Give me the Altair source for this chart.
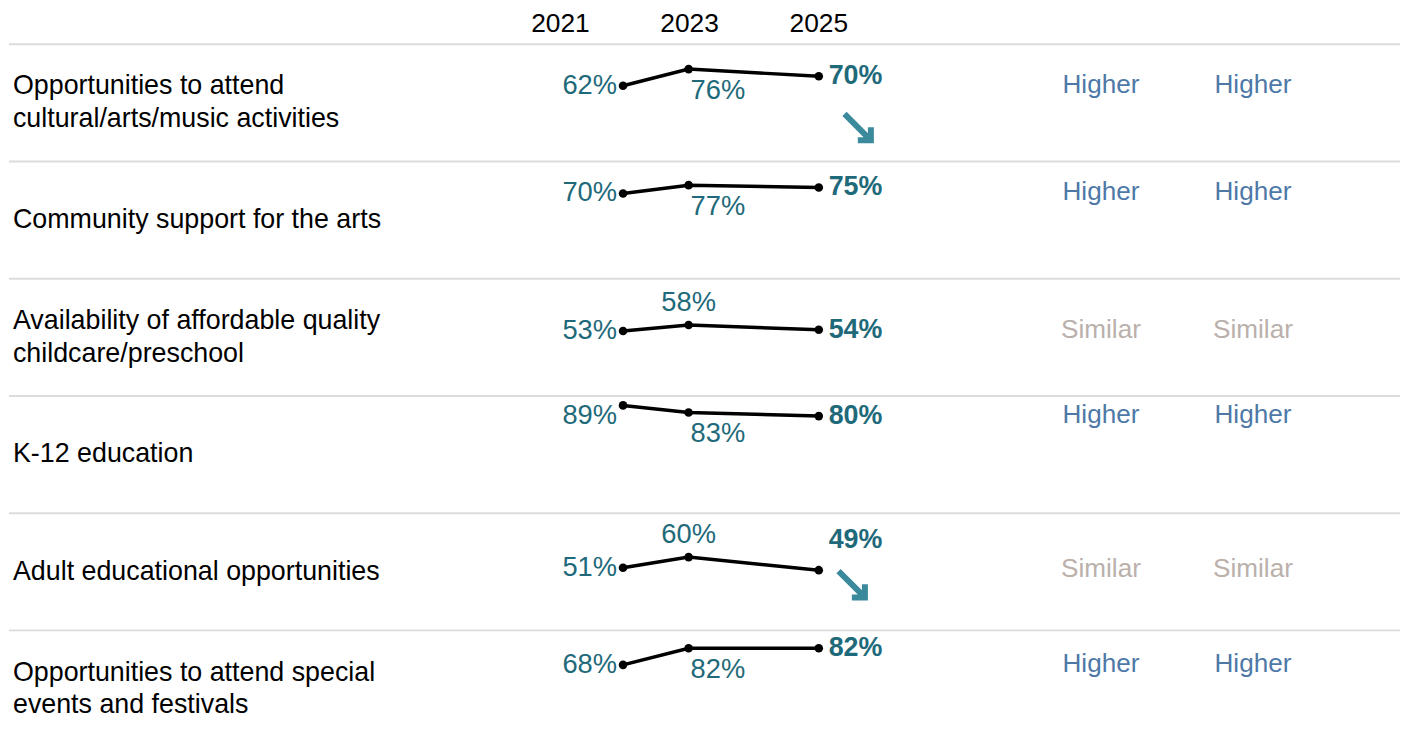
import altair as alt
import pandas as pd

# ---- data ----
categories = [
    "Opportunities to attend\ncultural/arts/music activities",
    "Community support for the arts",
    "Availability of affordable quality\nchildcare/preschool",
    "K-12 education",
    "Adult educational opportunities",
    "Opportunities to attend special\nevents and festivals",
]
years = [2021, 2023, 2025]
v2021 = [62, 70, 53, 89, 51, 68]
v2023 = [76, 77, 58, 83, 60, 82]
v2025 = [70, 75, 54, 80, 49, 82]
label2023_side = ["below", "below", "above", "below", "above", "below"]
label2025_side = ["right", "right", "right", "right", "above", "right"]
trend = ["down", "none", "none", "none", "down", "none"]
compare_a = ["Higher", "Higher", "Similar", "Higher", "Similar", "Higher"]
compare_b = ["Higher", "Higher", "Similar", "Higher", "Similar", "Higher"]

recs = []
for i, cat in enumerate(categories):
    for yr, vals in zip(years, [v2021, v2023, v2025]):
        recs.append({
            "row": i,
            "category": cat,
            "nlines": cat.count("\n") + 1,
            "year": yr,
            "value": vals[i],
            "label": f"{vals[i]}%",
            "side23": label2023_side[i],
            "side25": label2025_side[i],
            "trend": trend[i],
            "cmpA": compare_a[i],
            "cmpB": compare_b[i],
        })
df = pd.DataFrame(recs)

TEAL = "#1f6a7a"
ARROW = "#3b8a9c"
FONT = "Liberation Sans"
W = 1405
H = 117.2
PCT = 27.5

yscale = alt.Scale(domain=[-1, 97], zero=False, nice=False)
xs = alt.X("year:Q", scale=alt.Scale(domain=years, range=[618, 684, 815], zero=False, nice=False), axis=None)
ys = alt.Y("value:Q", scale=yscale, axis=None)

base = alt.Chart(df)

sep = base.transform_filter("datum.year == 2021").mark_rule(color="#dcdcdc", strokeWidth=2).encode(
    x=alt.value(0), x2=alt.value(1400), y=alt.value(0)
)
line = base.mark_line(color="black", strokeWidth=3.5).encode(x=xs, y=ys, detail="row:N")
pts = base.mark_circle(color="black", size=75, opacity=1).encode(x=xs, y=ys)

# 2021 labels kept inside the row (clamped near the row top)
t21 = base.transform_filter("datum.year == 2021").transform_calculate(
    ly="min(datum.value, 80)"
).mark_text(
    align="right", baseline="middle", dx=-6, fontSize=PCT, font=FONT, color=TEAL
).encode(x=xs, y=alt.Y("ly:Q", scale=yscale, axis=None), text="label:N")
t23b = base.transform_filter("datum.year == 2023 && datum.side23 == 'below'").mark_text(
    align="left", baseline="middle", dx=2, dy=22, fontSize=PCT, font=FONT, color=TEAL
).encode(x=xs, y=ys, text="label:N")
t23a = base.transform_filter("datum.year == 2023 && datum.side23 == 'above'").mark_text(
    align="center", baseline="middle", dy=-22, fontSize=PCT, font=FONT, color=TEAL
).encode(x=xs, y=ys, text="label:N")
t25r = base.transform_filter("datum.year == 2025 && datum.side25 == 'right'").mark_text(
    align="left", baseline="middle", dx=10, fontSize=27, font=FONT, fontWeight="bold", color=TEAL
).encode(x=xs, y=ys, text="label:N")
t25a = base.transform_filter("datum.year == 2025 && datum.side25 == 'above'").mark_text(
    align="left", baseline="middle", dx=10, dy=-30, fontSize=27, font=FONT, fontWeight="bold", color=TEAL
).encode(x=xs, y=ys, text="label:N")

arrow_path = "M-1,-1L0.88,0.88M0.88,-0.05L0.88,0.88L-0.05,0.88"
arr_r = base.transform_filter("datum.year == 2025 && datum.trend == 'down' && datum.side25 == 'right'").mark_point(
    shape=arrow_path, size=800, filled=False, stroke=ARROW, strokeWidth=6, strokeCap="butt",
    strokeJoin="miter", opacity=1, xOffset=40, yOffset=52
).encode(x=xs, y=ys)
arr_a = base.transform_filter("datum.year == 2025 && datum.trend == 'down' && datum.side25 == 'above'").mark_point(
    shape=arrow_path, size=800, filled=False, stroke=ARROW, strokeWidth=6, strokeCap="butt",
    strokeJoin="miter", opacity=1, xOffset=34, yOffset=15
).encode(x=xs, y=ys)

rowlabel1 = base.transform_filter("datum.year == 2021 && datum.nlines == 1").mark_text(
    align="left", baseline="middle", fontSize=27, font=FONT, color="black"
).encode(x=alt.value(4), y=alt.value(59), text="category:N")
rowlabel2 = base.transform_filter("datum.year == 2021 && datum.nlines == 2").mark_text(
    align="left", baseline="middle", fontSize=27, font=FONT, color="black", lineBreak="\n", lineHeight=33
).encode(x=alt.value(4), y=alt.value(42.5), text="category:N")

cmp_color = alt.Scale(domain=["Higher", "Similar"], range=["#4e79a7", "#bab0ac"])
cmp_base = base.transform_joinaggregate(vmin="min(value)", groupby=["row"]).transform_filter("datum.year == 2021")
cmpA = cmp_base.mark_text(align="center", baseline="middle", dy=-1, fontSize=26.3, font=FONT).encode(
    x=alt.value(1099),
    y=alt.Y("vmin:Q", scale=yscale, axis=None),
    text="cmpA:N",
    color=alt.Color("cmpA:N", scale=cmp_color, legend=None),
)
cmpB = cmp_base.mark_text(align="center", baseline="middle", dy=-1, fontSize=26.3, font=FONT).encode(
    x=alt.value(1252),
    y=alt.Y("vmin:Q", scale=yscale, axis=None),
    text="cmpB:N",
    color=alt.Color("cmpB:N", scale=cmp_color, legend=None),
)

body = alt.layer(
    sep, line, pts, t21, t23b, t23a, t25r, t25a, arr_r, arr_a, rowlabel1, rowlabel2, cmpA, cmpB
).properties(width=W, height=H).facet(
    row=alt.Row("row:O", header=None), spacing=0, bounds="flush"
)

hdr_df = pd.DataFrame({"year": years, "txt": [str(y) for y in years]})
header = alt.Chart(hdr_df).mark_text(
    align="center", baseline="middle", fontSize=26.5, font=FONT, color="black"
).encode(
    x=alt.X("year:Q", scale=alt.Scale(domain=[2021, 2025], range=[555, 815], zero=False, nice=False), axis=None),
    y=alt.value(14),
    text="txt:N",
).properties(width=W, height=34)

chart = alt.vconcat(header, body, spacing=0, bounds="flush").properties(padding=0).configure_view(stroke=None)

chart.save("out.html", embed_options={"renderer": "svg", "actions": False})
